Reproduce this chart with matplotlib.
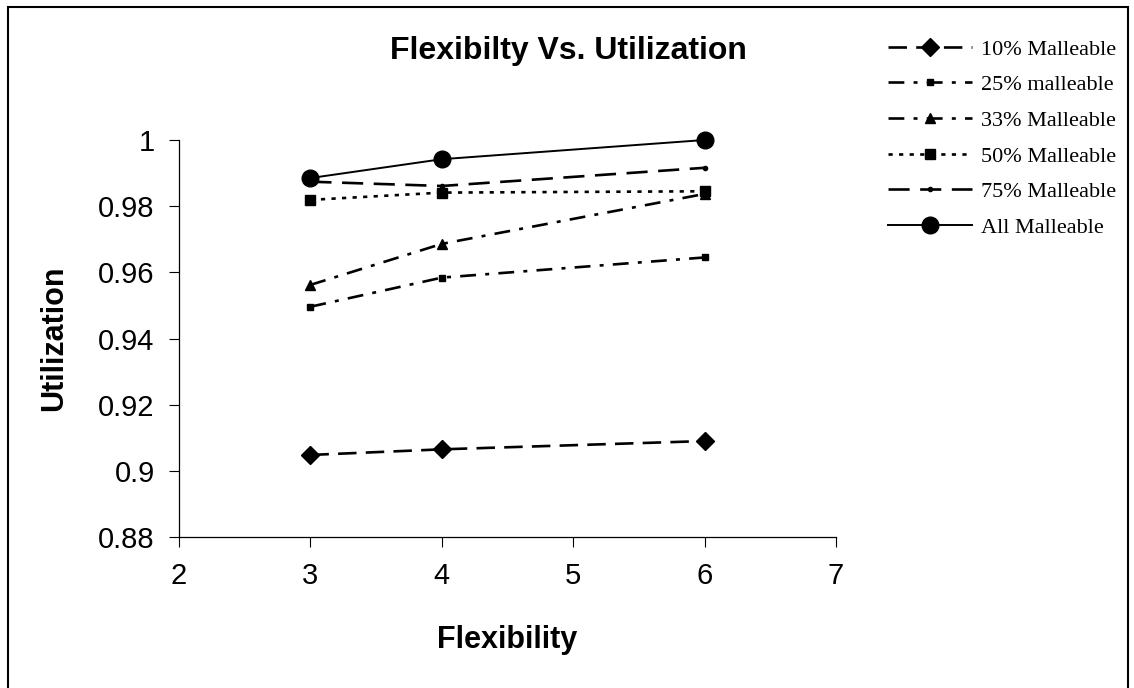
import matplotlib.pyplot as plt
from matplotlib.patches import Rectangle

# data
flex = [3, 4, 6]
util_10 = [0.9048, 0.9065, 0.9090]
util_25 = [0.9496, 0.9584, 0.9645]
util_33 = [0.9562, 0.9686, 0.9837]
util_50 = [0.9819, 0.9841, 0.9845]
util_75 = [0.9874, 0.9861, 0.9916]
util_all = [0.9885, 0.9942, 1.0000]
labels = ["10% Malleable", "25% malleable", "33% Malleable",
          "50% Malleable", "75% Malleable", "All Malleable"]

plt.rcParams['font.family'] = ['Liberation Sans', 'DejaVu Sans']

fig = plt.figure(figsize=(11.34, 6.88), dpi=100)
ax = fig.add_axes([179 / 1134, 1 - 537 / 688, 657 / 1134, 397 / 688])

kw = dict(color='black', lw=1.9, clip_on=False)
ax.plot(flex, util_10, linestyle=(0, (7, 3.5)), marker='D', markersize=9.5, label=labels[0], **kw)
ax.plot(flex, util_25, linestyle=(0, (6, 3.5, 1.5, 3.5)), marker='s', markersize=5, label=labels[1], **kw)
ax.plot(flex, util_33, linestyle=(0, (6, 3.5, 1.5, 3.5)), marker='^', markersize=6.5, label=labels[2], **kw)
ax.plot(flex, util_50, linestyle=(0, (1.6, 2.4)), marker='s', markersize=7.5, label=labels[3], **kw)
ax.plot(flex, util_75, linestyle=(0, (8, 4)), marker='o', markersize=3, label=labels[4], **kw)
ax.plot(flex, util_all, linestyle='-', lw=1.4, marker='o', markersize=12,
        color='black', clip_on=False, label=labels[5])

ax.set_xlim(2, 7)
ax.set_ylim(0.88, 1.0)
ax.set_xticks([2, 3, 4, 5, 6, 7])
ax.set_yticks([0.88, 0.9, 0.92, 0.94, 0.96, 0.98, 1.0])
ax.set_yticklabels(['0.88', '0.9', '0.92', '0.94', '0.96', '0.98', '1'])
ax.tick_params(labelsize=21, direction='out', length=7, width=0.8)
ax.tick_params(axis='x', pad=11)
ax.tick_params(axis='y', pad=10.5)
for s in ['top', 'right']:
    ax.spines[s].set_visible(False)
for s in ['left', 'bottom']:
    ax.spines[s].set_linewidth(0.9)

ax.set_xlabel('Flexibility', fontsize=22, fontweight='bold')
ax.xaxis.set_label_coords(0.5, (537 - 640) / 397)
ax.xaxis.label.set_va('center')
ax.set_ylabel('Utilization', fontsize=22, fontweight='bold')
ax.yaxis.set_label_coords((54 - 179) / 657, 0.5)
ax.yaxis.label.set_va('center')

fig.text(568 / 1134, 1 - 51 / 688, 'Flexibilty Vs. Utilization', fontsize=23,
         fontweight='bold', ha='center', va='center')

fig.legend(loc='upper left', bbox_to_anchor=(888 / 1134, 1 - 39 / 688), frameon=False,
           prop={'family': 'Liberation Serif', 'size': 16},
           handlelength=3.8, handletextpad=0.4, labelspacing=0.68,
           borderpad=0, borderaxespad=0)

# outer frame (bottom edge falls outside the image)
fig.patches.append(Rectangle((8 / 1134, -0.02), 1120 / 1134, 1.02 - 7 / 688,
                             transform=fig.transFigure, fill=False,
                             edgecolor='black', lw=1.5))

fig.savefig('out.png', dpi=100)
